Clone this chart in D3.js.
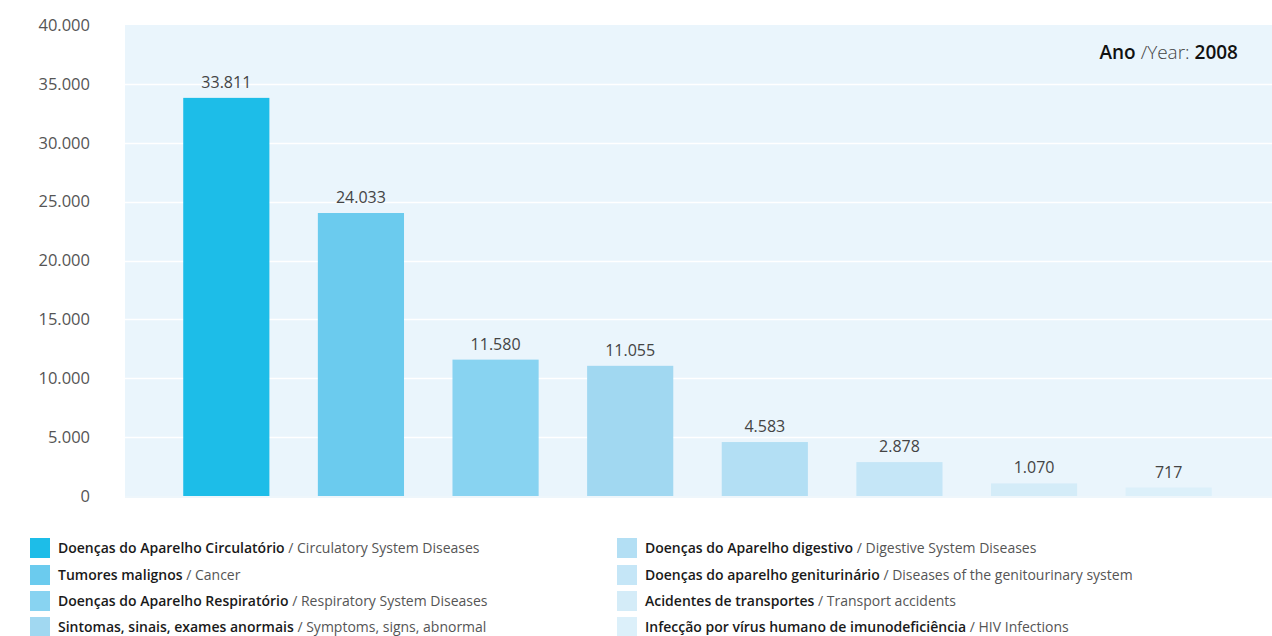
<!DOCTYPE html>
<html><head><meta charset="utf-8">
<script src="https://cdnjs.cloudflare.com/ajax/libs/d3/7.8.5/d3.min.js"></script>
<style>
html,body{margin:0;padding:0;background:#fff;}
svg{display:block;font-family:"Open Sans",sans-serif;}
</style></head>
<body><svg id="c" width="1272" height="636"></svg>
<script>
const categoriesPt = ["Doenças do Aparelho Circulatório","Tumores malignos","Doenças do Aparelho Respiratório","Sintomas, sinais, exames anormais","Doenças do Aparelho digestivo","Doenças do aparelho geniturinário","Acidentes de transportes","Infecção por vírus humano de imunodeficiência"];
const categoriesEn = ["Circulatory System Diseases","Cancer","Respiratory System Diseases","Symptoms, signs, abnormal","Digestive System Diseases","Diseases of the genitourinary system","Transport accidents","HIV Infections"];
const values = [33811, 24033, 11580, 11055, 4583, 2878, 1070, 717];
const colors = ["#1dbde8","#6bcbee","#88d3f1","#a1d8f1","#b3dff4","#c5e6f7","#d4ecf8","#dcf0fa"];
const yTicks = [0,5000,10000,15000,20000,25000,30000,35000,40000];
const yearLabel = {pre:"Ano", mid:" /Year: ", year:"2008"};

const svg = d3.select("#c");
const fmt = v => d3.format(",")(v).replace(/,/g,".");

const plot = {left:125, right:1272, top:25, bottom:496};
const y = d3.scaleLinear().domain([0,40000]).range([496,25]);
const x = d3.scaleBand().domain(d3.range(values.length)).range([159,1236]).paddingInner(0.36).paddingOuter(0.18);

svg.append("rect").attr("x",plot.left).attr("y",plot.top).attr("width",plot.right-plot.left).attr("height",plot.bottom-plot.top).attr("fill","#eaf5fc");

// gridlines
svg.append("g").selectAll("line").data(yTicks.slice(1,-1)).join("line")
  .attr("x1",plot.left).attr("x2",plot.right).attr("y1",d=>Math.round(y(d))+0.5).attr("y2",d=>Math.round(y(d))+0.5)
  .attr("stroke","#ffffff").attr("stroke-width",1.5);
svg.append("line").attr("x1",plot.left).attr("x2",plot.right).attr("y1",497).attr("y2",497).attr("stroke","#eef6fb").attr("stroke-width",2);

// y axis
const yAxis = d3.axisLeft(y).tickValues(yTicks).tickSize(0).tickPadding(0).tickFormat(fmt);
const ga = svg.append("g").attr("transform","translate(90,0)").call(yAxis);
ga.select(".domain").remove();
ga.selectAll("text").attr("font-size",16.5).attr("fill","#555").attr("font-family","Open Sans, sans-serif");

// bars
svg.append("g").selectAll("rect").data(values).join("rect")
  .attr("x",(d,i)=>x(i)).attr("width",x.bandwidth())
  .attr("y",d=>y(d)).attr("height",d=>y(0)-y(d))
  .attr("fill",(d,i)=>colors[i]);

// value labels
svg.append("g").selectAll("text").data(values).join("text")
  .attr("x",(d,i)=>x(i)+x.bandwidth()/2).attr("y",d=>y(d)-10)
  .attr("text-anchor","middle").attr("font-size",16).attr("fill","#444")
  .text(fmt);

// year label
const yt = svg.append("text").attr("x",1238).attr("y",59).attr("text-anchor","end").attr("font-size",19).attr("fill","#111");
yt.append("tspan").attr("font-weight",600).text(yearLabel.pre);
yt.append("tspan").attr("fill","#444").attr("font-weight",300).text(yearLabel.mid);
yt.append("tspan").attr("font-weight",600).text(yearLabel.year);

// legend
const cols = [30, 617];
const rowY = [548, 575, 601, 627];
const lg = svg.append("g");
categoriesPt.forEach((c,i)=>{
  const col = Math.floor(i/4), row = i%4;
  const gx = cols[col], gy = rowY[row];
  lg.append("rect").attr("x",gx).attr("y",gy-10).attr("width",20).attr("height",20).attr("fill",colors[i]);
  const t = lg.append("text").attr("x",gx+28).attr("y",gy+5).attr("font-size",14);
  t.append("tspan").attr("font-weight",600).attr("fill","#1a1a1a").text(c+" ");
  t.append("tspan").attr("fill","#555").text("/ "+categoriesEn[i]);
});
</script></body></html>
